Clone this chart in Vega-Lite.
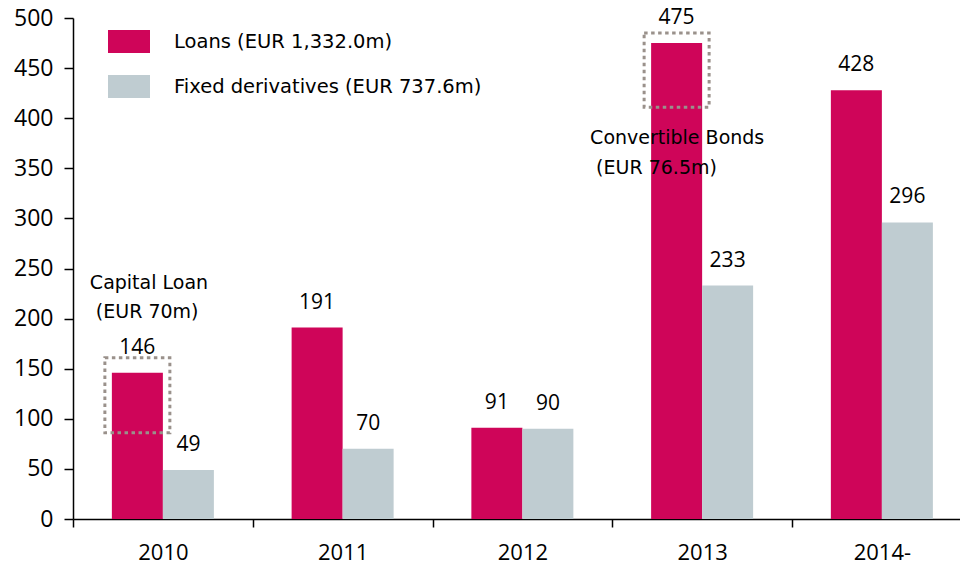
{
  "$schema": "https://vega.github.io/schema/vega-lite/v6.json",
  "width": 887,
  "height": 501,
  "autosize": {"type": "none"},
  "padding": {"left": 73, "top": 18, "right": 0, "bottom": 48},
  "background": "white",
  "config": {"view": {"stroke": null}},
  "datasets": {
    "bars": [
      {"year": "2010", "series": "Loans (EUR 1,332.0m)", "value": 146},
      {"year": "2010", "series": "Fixed derivatives (EUR 737.6m)", "value": 49},
      {"year": "2011", "series": "Loans (EUR 1,332.0m)", "value": 191},
      {"year": "2011", "series": "Fixed derivatives (EUR 737.6m)", "value": 70},
      {"year": "2012", "series": "Loans (EUR 1,332.0m)", "value": 91},
      {"year": "2012", "series": "Fixed derivatives (EUR 737.6m)", "value": 90},
      {"year": "2013", "series": "Loans (EUR 1,332.0m)", "value": 475},
      {"year": "2013", "series": "Fixed derivatives (EUR 737.6m)", "value": 233},
      {"year": "2014-", "series": "Loans (EUR 1,332.0m)", "value": 428},
      {"year": "2014-", "series": "Fixed derivatives (EUR 737.6m)", "value": 296}
    ],
    "boxes": [
      {"year": "2010", "series": "Loans (EUR 1,332.0m)", "top": 161, "bottom": 86},
      {"year": "2013", "series": "Loans (EUR 1,332.0m)", "top": 485, "bottom": 411}
    ],
    "notes": [
      {"year": "2010", "series": "Loans (EUR 1,332.0m)", "pos": 229.5, "label": "Capital Loan"},
      {"year": "2010", "series": "Loans (EUR 1,332.0m)", "pos": 200.6, "label": "(EUR 70m)"},
      {"year": "2013", "series": "Loans (EUR 1,332.0m)", "pos": 374.3, "label": "Convertible Bonds"},
      {"year": "2013", "series": "Loans (EUR 1,332.0m)", "pos": 344.3, "label": "(EUR 76.5m)"}
    ]
  },
  "layer": [
    {
      "data": {"name": "bars"},
      "mark": {"type": "bar"},
      "encoding": {
        "x": {
          "field": "year", "type": "nominal",
          "sort": ["2010", "2011", "2012", "2013", "2014-"],
          "scale": {"range": [0, 898.75], "paddingInner": 0, "paddingOuter": 0},
          "axis": {
            "title": null, "labelAngle": 0, "tickBand": "extent",
            "domainColor": "#000000", "domainWidth": 1.5,
            "tickColor": "#000000", "tickWidth": 1.5, "tickSize": 8,
            "labelFont": "Open Sans", "labelFontSize": 22, "labelColor": "#000000",
            "labelPadding": 15
          }
        },
        "xOffset": {
          "field": "series", "type": "nominal",
          "sort": ["Loans (EUR 1,332.0m)", "Fixed derivatives (EUR 737.6m)"],
          "scale": {"paddingOuter": 0.762, "paddingInner": 0}
        },
        "y": {
          "field": "value", "type": "quantitative",
          "scale": {"domain": [0, 500], "nice": false},
          "axis": {
            "title": null, "grid": false,
            "values": [0, 50, 100, 150, 200, 250, 300, 350, 400, 450, 500],
            "domainColor": "#000000", "domainWidth": 1.5,
            "tickColor": "#000000", "tickWidth": 1.5, "tickSize": 9,
            "labelFont": "Open Sans", "labelFontSize": 23, "labelColor": "#000000",
            "labelPadding": 11
          }
        },
        "color": {
          "field": "series", "type": "nominal",
          "scale": {
            "domain": ["Loans (EUR 1,332.0m)", "Fixed derivatives (EUR 737.6m)"],
            "range": ["#CF0559", "#BFCCD1"]
          },
          "legend": {
            "title": null, "orient": "none", "legendX": 35, "legendY": 2.5,
            "direction": "vertical", "padding": 0,
            "symbolType": "M-1,-0.548H1V0.548H-1Z", "symbolSize": 1764,
            "symbolStrokeWidth": 0, "symbolOpacity": 1,
            "labelFont": "DejaVu Sans", "labelFontSize": 19.5, "labelColor": "#000000",
            "labelOffset": 24, "rowPadding": 12, "labelLimit": 500
          }
        }
      }
    },
    {
      "data": {"name": "bars"},
      "mark": {"type": "text", "font": "Open Sans", "fontSize": 21, "color": "#000000", "baseline": "alphabetic", "align": "center", "dy": -19},
      "encoding": {
        "x": {"field": "year", "type": "nominal", "sort": ["2010", "2011", "2012", "2013", "2014-"]},
        "xOffset": {"field": "series", "type": "nominal", "sort": ["Loans (EUR 1,332.0m)", "Fixed derivatives (EUR 737.6m)"]},
        "y": {"field": "value", "type": "quantitative"},
        "text": {"field": "value", "type": "quantitative"}
      }
    },
    {
      "data": {"name": "boxes"},
      "mark": {"type": "bar", "fill": null, "fillOpacity": 0, "stroke": "#9A918B", "strokeWidth": 3, "strokeDash": [3.5, 3.5], "width": 65},
      "encoding": {
        "x": {"field": "year", "type": "nominal", "sort": ["2010", "2011", "2012", "2013", "2014-"]},
        "xOffset": {"field": "series", "type": "nominal", "sort": ["Loans (EUR 1,332.0m)", "Fixed derivatives (EUR 737.6m)"]},
        "y": {"field": "top", "type": "quantitative"},
        "y2": {"field": "bottom"}
      }
    },
    {
      "data": {"name": "notes"},
      "mark": {
        "type": "text", "font": "DejaVu Sans", "fontSize": 19, "color": "#000000",
        "baseline": "alphabetic", "align": "left",
        "dx": {"expr": "(datum.year === '2010' ? -47.5 : -86.5) + (indexof(datum.label, '(') === 0 ? 6 : 0)"}
      },
      "encoding": {
        "x": {"field": "year", "type": "nominal", "sort": ["2010", "2011", "2012", "2013", "2014-"]},
        "xOffset": {"field": "series", "type": "nominal", "sort": ["Loans (EUR 1,332.0m)", "Fixed derivatives (EUR 737.6m)"]},
        "y": {"field": "pos", "type": "quantitative"},
        "text": {"field": "label"}
      }
    }
  ]
}
